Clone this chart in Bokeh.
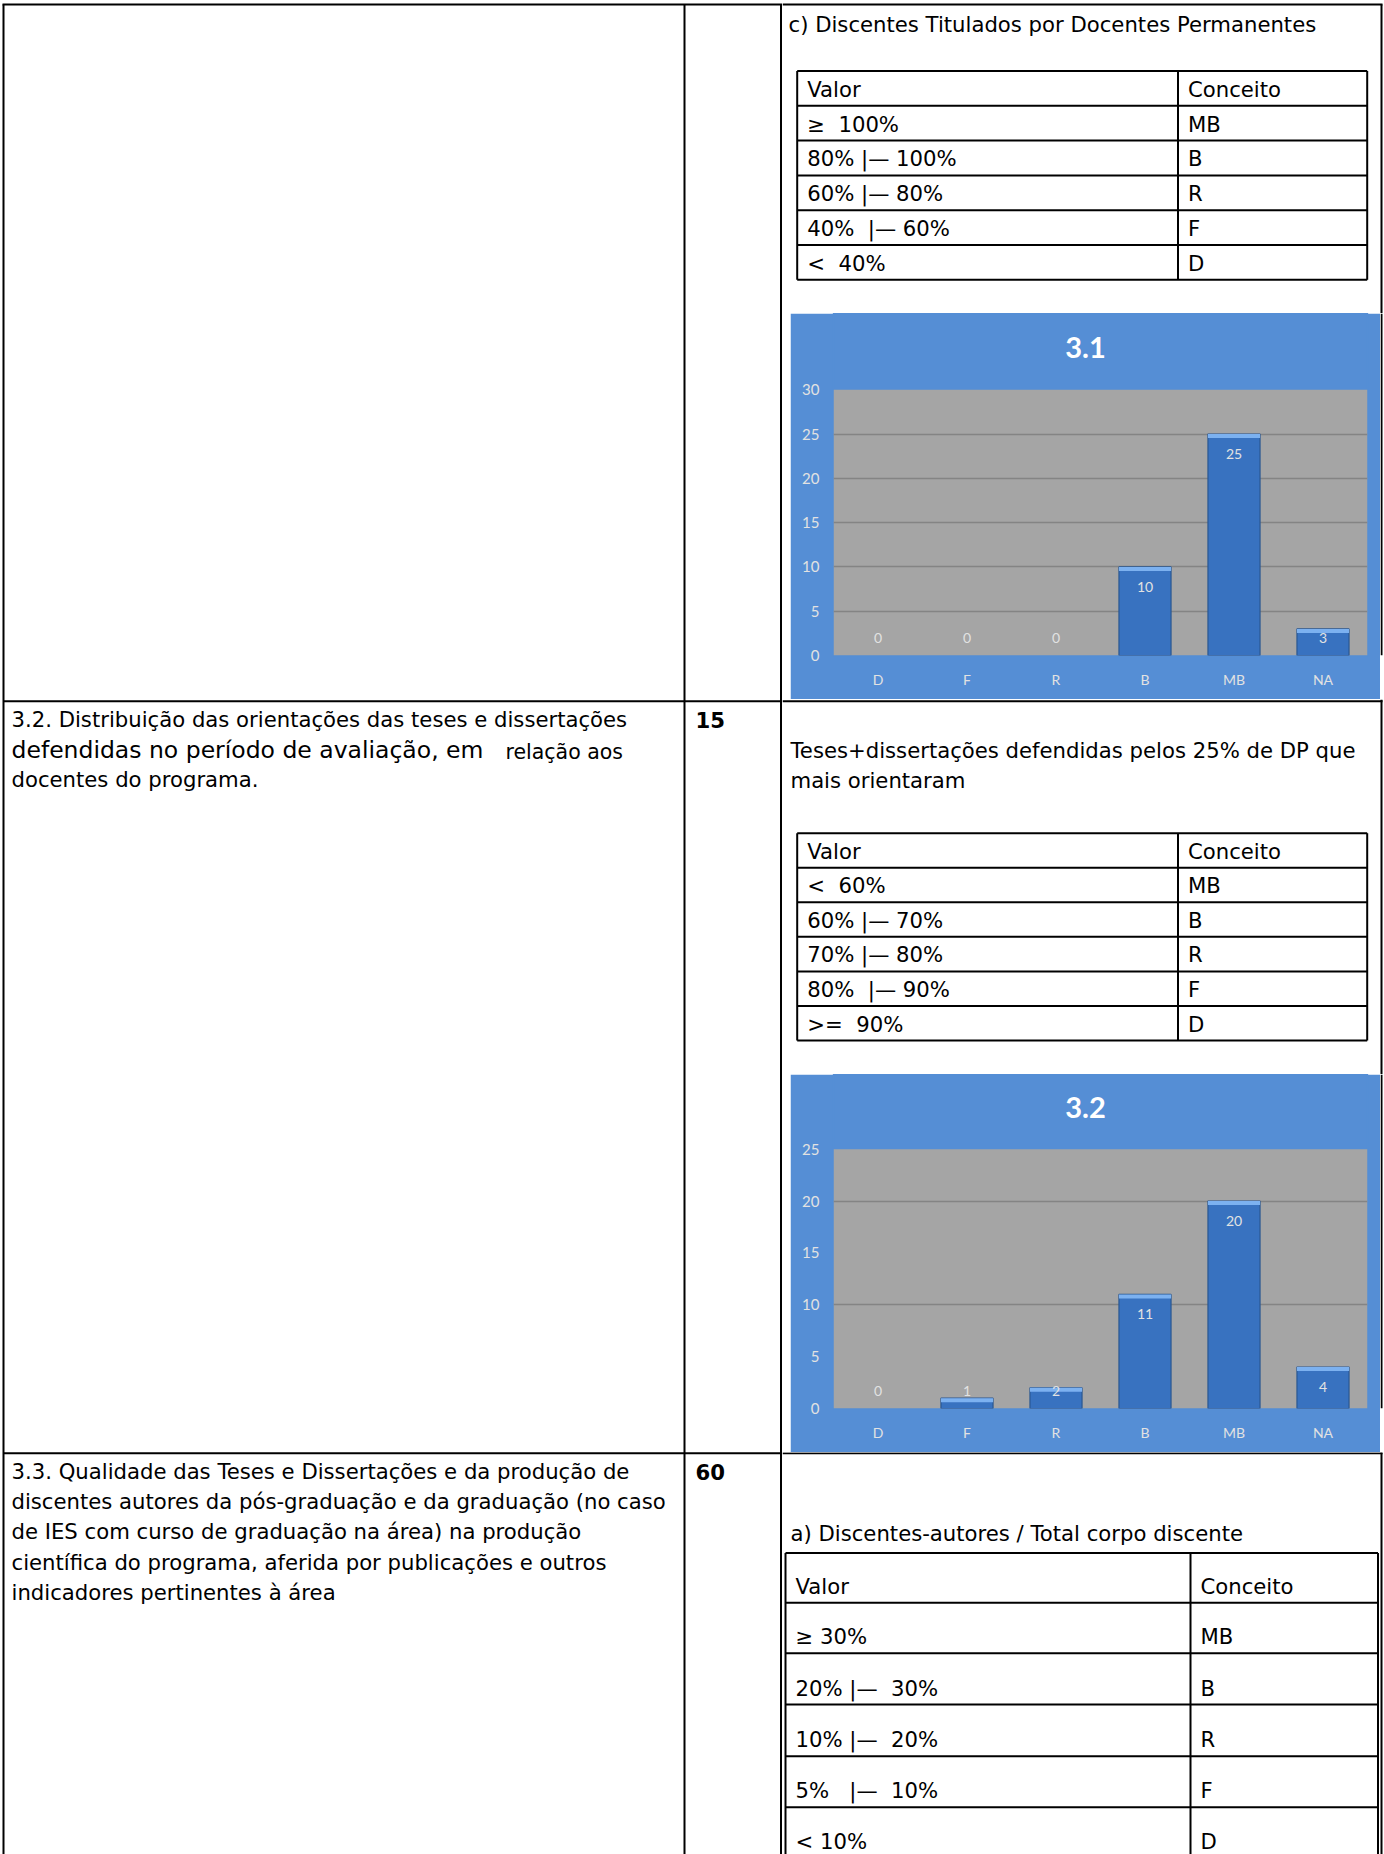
import numpy as np
from bokeh.plotting import figure
from bokeh.models import Range1d, FactorRange, FixedTicker, BoxAnnotation, Spacer, ColumnDataSource
from bokeh.layouts import row, column
from bokeh.core.properties import value
from bokeh.embed import file_html
from bokeh.resources import INLINE

# ---------------- data ----------------
categories = ["D", "F", "R", "B", "MB", "NA"]
counts_31 = [0, 0, 0, 10, 25, 3]
counts_32 = [0, 1, 2, 11, 20, 4]
chart_titles = ["3.1", "3.2"]

NB = "\u00a0"   # non-breaking space keeps the wide gaps of the ranges
DASH = "|\u2014"

table_header = ["Valor", "Conceito"]
conceitos = ["MB", "B", "R", "F", "D"]

heading_c = "c) Discentes Titulados por Docentes Permanentes"
table1_valor = ["\u2265" + NB + NB + "100%", "80% " + DASH + " 100%", "60% " + DASH + " 80%",
                "40%" + NB + NB + DASH + " 60%", "<" + NB + NB + "40%"]

item_32_lines = ["3.2. Distribui\u00e7\u00e3o das orienta\u00e7\u00f5es das teses e disserta\u00e7\u00f5es",
                 "defendidas no per\u00edodo de avalia\u00e7\u00e3o, em",
                 "docentes do programa."]
item_32_tail = "rela\u00e7\u00e3o aos"
item_32_points = "15"
heading_32 = ["Teses+disserta\u00e7\u00f5es defendidas pelos 25% de DP que", "mais orientaram"]
table2_valor = ["<" + NB + NB + "60%", "60% " + DASH + " 70%", "70% " + DASH + " 80%",
                "80%" + NB + NB + DASH + " 90%", ">=" + NB + NB + "90%"]

item_33_lines = ["3.3. Qualidade das Teses e Disserta\u00e7\u00f5es e da produ\u00e7\u00e3o de",
                 "discentes autores da p\u00f3s-gradua\u00e7\u00e3o e da gradua\u00e7\u00e3o (no caso",
                 "de IES com curso de gradua\u00e7\u00e3o na \u00e1rea) na produ\u00e7\u00e3o",
                 "cient\u00edfica do programa, aferida por publica\u00e7\u00f5es e outros",
                 "indicadores pertinentes \u00e0 \u00e1rea"]
item_33_points = "60"
heading_33a = "a) Discentes-autores / Total corpo discente"
table3_valor = ["\u2265 30%", "20% " + DASH + NB + " 30%", "10% " + DASH + NB + " 20%",
                "5%" + NB + NB + " " + DASH + NB + " 10%", "< 10%"]

# ---------------- page geometry (pixels) ----------------
PAGE_W, PAGE_H = 1384, 1854
SPLIT = 782                     # left block | right block
X_LEFT, X_DIV1, X_DIV2, X_RIGHT = 3, 684, 780.5, 1381
Y_TOP, Y_ROW1, Y_ROW2 = 4, 700.8, 1452.7
LW = 2
LINE_STEP = 30.2

DOC_FONT = "DejaVu Sans"
DOC_SIZE = "21.2px"
CHART_FONT = "Lato"
BLUE = "#558ed5"
PLOT_GRAY = "#a5a5a5"
GRID_GRAY = "#848484"
LABEL_GRAY = "#e2e2e2"


def sheet(x0, x1, y0, y1):
    """A blank white canvas whose data coordinates are page pixels (y downwards)."""
    p = figure(width=int(round(x1 - x0)), height=int(round(y1 - y0)),
               x_range=Range1d(x0, x1), y_range=Range1d(y1, y0),
               x_axis_type=None, y_axis_type=None,
               output_backend="svg", toolbar_location=None,
               min_border_left=0, min_border_right=0, min_border_top=0, min_border_bottom=0,
               outline_line_color=None, background_fill_color="white", border_fill_color="white")
    return p


def rules(p, segs, width=LW):
    x0, y0, x1, y1 = zip(*segs)
    p.segment(x0=list(x0), y0=list(y0), x1=list(x1), y1=list(y1),
              line_color="black", line_width=width)


def words(p, xs, ys, texts, size=DOC_SIZE, bold=False, font=DOC_FONT):
    p.text(x=xs, y=ys, text=texts, text_font=value(font), text_font_size=size,
           text_font_style="bold" if bold else "normal",
           text_color="black", text_align="left", text_baseline="middle")


def table(p, left, mid, right, edges, valores, pad=10, rise=16.5):
    segs = [(left, e, right, e) for e in edges]
    segs += [(x, edges[0], x, edges[-1]) for x in (left, mid, right)]
    rules(p, segs)
    ys = [e - rise for e in edges[1:]]
    words(p, [left + pad] * len(ys), ys, [table_header[0]] + valores)
    words(p, [mid + pad] * len(ys), ys, [table_header[1]] + conceitos)


def bar_chart(title, counts, ymax, grid_ticks, width, height, plot_top, title_y):
    bottom_border = 44
    frame_h = height - bottom_border
    ppu = (frame_h - plot_top) / ymax          # pixels per unit
    y_end = ymax + plot_top / ppu
    p = figure(width=width, height=height,
               x_range=FactorRange(*categories), y_range=Range1d(0, y_end),
               output_backend="svg", toolbar_location=None,
               min_border_left=43, min_border_right=13, min_border_top=0,
               min_border_bottom=bottom_border,
               background_fill_color=BLUE, border_fill_color=BLUE,
               outline_line_color=BLUE, outline_line_width=1.5)
    p.add_layout(BoxAnnotation(bottom=0, top=ymax, fill_color=PLOT_GRAY, fill_alpha=1,
                               line_color=None, level="image"))
    p.xgrid.visible = False
    p.ygrid.ticker = FixedTicker(ticks=grid_ticks)
    p.ygrid.grid_line_color = GRID_GRAY
    p.ygrid.grid_line_width = 1.5

    p.yaxis.ticker = FixedTicker(ticks=list(range(0, ymax + 1, 5)))
    for ax in (p.xaxis[0], p.yaxis[0]):
        ax.axis_line_color = None
        ax.major_tick_line_color = None
        ax.minor_tick_line_color = None
        ax.major_tick_out = 0
        ax.major_tick_in = 0
        ax.major_label_text_font = CHART_FONT
        ax.major_label_text_color = LABEL_GRAY
    p.yaxis.major_label_text_font_size = "15px"
    p.yaxis.major_label_standoff = 14
    p.xaxis.major_label_text_font_size = "14px"
    p.xaxis.major_label_standoff = 15

    counts = np.array(counts, dtype=float)
    cap = 4 / ppu
    src = ColumnDataSource(dict(
        cat=categories, top=counts, cap_bottom=counts - cap,
        edge=np.where(counts > 0, 1.0, 0.0),
        label_y=np.maximum(counts - 20 / ppu, 17.5 / ppu),
        label=[str(int(c)) for c in counts]))
    p.vbar(x="cat", top="top", bottom=0, width=0.585, source=src,
           fill_color="#3872c0", line_color="#2a5791", line_width=1.2, line_alpha="edge")
    p.vbar(x="cat", top="top", bottom="cap_bottom", width=0.585, source=src,
           fill_color="#7cb1f0", line_color=None)
    p.text(x="cat", y="label_y", text="label", source=src,
           text_font=value(CHART_FONT), text_font_size="14px", text_color=LABEL_GRAY,
           text_align="center", text_baseline="middle")
    # chart title, centred over the blue panel
    p.text(x=["R"], y=[y_end - title_y / ppu], text=[title], x_offset=29.5,
           text_font=value(CHART_FONT), text_font_size="29px", text_font_style="bold",
           text_color="white", text_align="center", text_baseline="middle")
    return p


# ---------------- left block: item descriptions and weights ----------------
left = sheet(0, SPLIT, 0, PAGE_H)
rules(left, [(X_LEFT - 1, Y_TOP, SPLIT, Y_TOP),
             (X_LEFT, Y_TOP, X_LEFT, PAGE_H),
             (X_DIV1, Y_TOP, X_DIV1, PAGE_H),
             (X_DIV2, Y_TOP, X_DIV2, PAGE_H),
             (X_LEFT, Y_ROW1, SPLIT, Y_ROW1),
             (X_LEFT, Y_ROW2, SPLIT, Y_ROW2)])
y32 = [719 + LINE_STEP * i for i in range(3)]
words(left, [11, 11], [y32[0], y32[2]], [item_32_lines[0], item_32_lines[2]])
words(left, [11], [y32[1]], [item_32_lines[1]], size="23.5px")
words(left, [505], [y32[1] + 2], [item_32_tail], size="20.5px")
words(left, [695], [y32[0]], [item_32_points], bold=True)
y33 = [1471 + LINE_STEP * i for i in range(5)]
words(left, [11] * 5, y33, item_33_lines)
words(left, [695], [y33[0]], [item_33_points], bold=True)

# ---------------- right block ----------------
r1 = sheet(SPLIT, PAGE_W, 0, 313)
rules(r1, [(SPLIT, Y_TOP, X_RIGHT + 1, Y_TOP), (X_RIGHT, Y_TOP, X_RIGHT, 313)])
words(r1, [788], [23.5], [heading_c])
table(r1, 796.7, 1177.5, 1366.7, [70.5 + 34.8 * i for i in range(7)], table1_valor)

chart1 = bar_chart(chart_titles[0], counts_31, 30, [0, 5, 10, 15, 20, 25],
                   width=590, height=386, plot_top=76.3, title_y=33.7)
edge1 = sheet(1380, PAGE_W, 313, 699)
rules(edge1, [(X_RIGHT, 313, X_RIGHT, 699)])

r2 = sheet(SPLIT, PAGE_W, 699, 1074)
rules(r2, [(SPLIT, Y_ROW1, X_RIGHT + 1, Y_ROW1), (X_RIGHT, 699, X_RIGHT, 1074)])
words(r2, [790, 790], [749.5, 780], heading_32)
table(r2, 796.7, 1177.5, 1366.7, [832.7 + 34.55 * i for i in range(7)], table2_valor)

chart2 = bar_chart(chart_titles[1], counts_32, 25, [0, 10, 20],
                   width=590, height=378, plot_top=74.7, title_y=32.7)
edge2 = sheet(1380, PAGE_W, 1074, 1452)
rules(edge2, [(X_RIGHT, 1074, X_RIGHT, 1452)])

r3 = sheet(SPLIT, PAGE_W, 1452, PAGE_H)
rules(r3, [(SPLIT, Y_ROW2, X_RIGHT + 1, Y_ROW2), (X_RIGHT, 1452, X_RIGHT, PAGE_H)])
words(r3, [790], [1533], [heading_33a])
table(r3, 785, 1190, 1377.5, [1552.5, 1602.3, 1652.8, 1704, 1755.7, 1806.7, 1857.5], table3_valor)

right_block = column(r1,
                     row(Spacer(width=8, height=386), chart1, edge1),
                     r2,
                     row(Spacer(width=8, height=378), chart2, edge2),
                     r3)
page = row(left, right_block)

html = file_html(page, INLINE, title="Quesito 3 \u2013 Corpo discente")
html = html.replace("<head>", "<head><style>html,body{margin:0;padding:0;background:#fff}</style>", 1)
open("out.html", "w").write(html)
